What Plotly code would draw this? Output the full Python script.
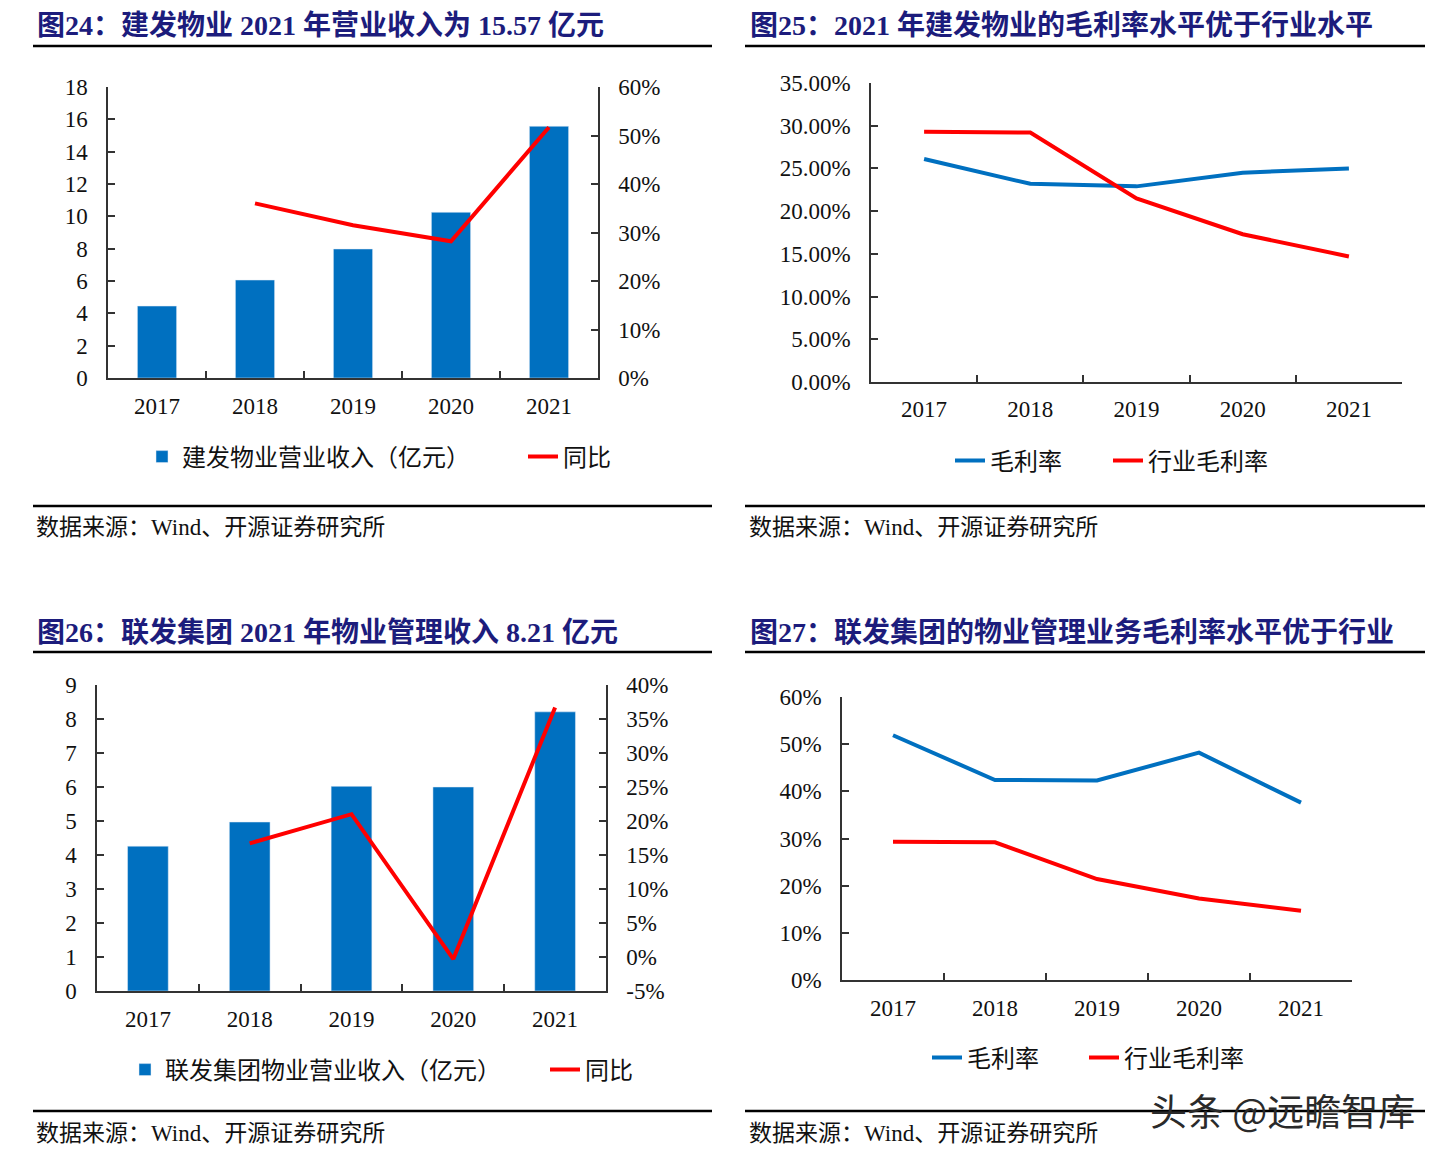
import plotly.graph_objects as go

# ---------------- data ----------------
years = ["2017", "2018", "2019", "2020", "2021"]

# 图24 建发物业营业收入（亿元）与同比（%）
jf_revenue = [4.45, 6.06, 7.98, 10.25, 15.57]
jf_revenue_yoy = [None, 36.0, 31.5, 28.2, 51.7]

# 图25 建发物业毛利率 vs 行业毛利率（%）
jf_gross_margin = [26.1, 23.2, 22.9, 24.5, 25.0]
industry_gross_margin = [29.3, 29.2, 21.5, 17.3, 14.7]

# 图26 联发集团物业营业收入（亿元）与同比（%）
lf_revenue = [4.26, 4.97, 6.02, 6.00, 8.21]
lf_revenue_yoy = [None, 16.7, 21.0, -0.3, 36.7]

# 图27 联发集团物业毛利率 vs 行业毛利率（%）
lf_gross_margin = [51.9, 42.4, 42.3, 48.2, 37.6]
industry_gross_margin_2 = [29.3, 29.2, 21.4, 17.3, 14.7]

titles = [
    "图24：建发物业 2021 年营业收入为 15.57 亿元",
    "图25：2021 年建发物业的毛利率水平优于行业水平",
    "图26：联发集团 2021 年物业管理收入 8.21 亿元",
    "图27：联发集团的物业管理业务毛利率水平优于行业",
]
source_text = "数据来源：Wind、开源证券研究所"
watermark = "头条 @远瞻智库"

p3_right_tickvals = [-5, 0, 5, 10, 15, 20, 25, 30, 35, 40]
p3_right_ticktext = [f"{v}%" for v in p3_right_tickvals]

# ---------------- style ----------------
W, H = 1445, 1162
OFF = 8  # page body margin
BLUE = "#0070C0"
RED = "#FF0000"
AXC = "#333333"
NAVY = "#1c1c7c"
FONT = "Liberation Serif, 'Noto Sans CJK SC', serif"
TICK = dict(family=FONT, size=23, color="#111111")


def fx(p):
    return (p - OFF) / W


def fy(p):
    return 1 - (p - OFF) / H


fig = go.Figure()

# ---- panel 1 ----
fig.add_trace(go.Bar(x=years, y=jf_revenue, name="建发物业营业收入（亿元）", marker_color=BLUE,
                     width=0.4, xaxis="x", yaxis="y", legend="legend"))
fig.add_trace(go.Scatter(x=years, y=jf_revenue_yoy, name="同比", mode="lines",
                         line=dict(color=RED, width=4), xaxis="x", yaxis="y2", legend="legend2"))
# ---- panel 2 ----
fig.add_trace(go.Scatter(x=years, y=jf_gross_margin, name="毛利率", mode="lines",
                         line=dict(color=BLUE, width=4), xaxis="x2", yaxis="y3", legend="legend3"))
fig.add_trace(go.Scatter(x=years, y=industry_gross_margin, name="行业毛利率", mode="lines",
                         line=dict(color=RED, width=4), xaxis="x2", yaxis="y3", legend="legend4"))
# ---- panel 3 ----
fig.add_trace(go.Bar(x=years, y=lf_revenue, name="联发集团物业营业收入（亿元）", marker_color=BLUE,
                     width=0.4, xaxis="x3", yaxis="y4", legend="legend5"))
fig.add_trace(go.Scatter(x=years, y=lf_revenue_yoy, name="同比", mode="lines",
                         line=dict(color=RED, width=4), xaxis="x3", yaxis="y5", legend="legend6"))
# ---- panel 4 ----
fig.add_trace(go.Scatter(x=years, y=lf_gross_margin, name="毛利率", mode="lines",
                         line=dict(color=BLUE, width=4), xaxis="x4", yaxis="y6", legend="legend7"))
fig.add_trace(go.Scatter(x=years, y=industry_gross_margin_2, name="行业毛利率", mode="lines",
                         line=dict(color=RED, width=4), xaxis="x4", yaxis="y6", legend="legend8"))


def xax(x0, x1, anchor, standoff):
    return dict(domain=[fx(x0), fx(x1)], anchor=anchor, type="category", range=[-0.5, len(years) - 0.5],
                tickson="boundaries", ticks="inside", ticklen=7, tickcolor=AXC, tickwidth=1.5,
                showline=True, linecolor=AXC, linewidth=1.5, showgrid=False, zeroline=False,
                tickfont=TICK, ticklabelstandoff=standoff, automargin=False, fixedrange=True)


def yax(y0, y1, anchor, rng, dtick, **kw):
    d = dict(domain=[fy(y1), fy(y0)], anchor=anchor, range=rng, dtick=dtick, ticks="inside",
             ticklen=7, tickcolor=AXC, tickwidth=1.5, showline=True, linecolor=AXC, linewidth=1.5,
             showgrid=False, zeroline=False, tickfont=TICK, ticklabelstandoff=14,
             automargin=False, fixedrange=True)
    d.update(kw)
    return d


layout = dict(
    width=W, height=H, autosize=False,
    margin=dict(l=0, r=0, t=0, b=0, pad=0, autoexpand=False),
    paper_bgcolor="white", plot_bgcolor="white",
    font=dict(family=FONT, size=22, color="#111111"),
    xaxis=xax(108, 598, "y", 7),
    yaxis=yax(87, 378, "x", [0, 18], 2),
    yaxis2=yax(87, 378, "x", [0, 60], 10, overlaying="y", side="right", ticksuffix="%"),
    xaxis2=xax(871, 1402, "y3", 6),
    yaxis3=yax(83, 382, "x2", [0, 35], 5, tickformat=".2f", ticksuffix="%"),
    xaxis3=xax(97, 606, "y4", 7),
    yaxis4=yax(685, 991, "x3", [0, 9], 1),
    yaxis5=yax(685, 991, "x3", [-5, 40], 5, overlaying="y4", side="right",
               tickmode="array", tickvals=p3_right_tickvals, ticktext=p3_right_ticktext),
    xaxis4=xax(842, 1352, "y6", 7),
    yaxis6=yax(697, 980, "x4", [0, 60], 10, ticksuffix="%"),
    showlegend=True,
)

legend_pos = {
    "legend": (182, 457), "legend2": (563, 457),
    "legend3": (990, 461), "legend4": (1148, 461),
    "legend5": (165, 1070), "legend6": (585, 1070),
    "legend7": (967, 1058), "legend8": (1124, 1058),
}
for name, (tx, ty) in legend_pos.items():
    layout[name] = dict(x=fx(tx - 40), y=fy(ty), xanchor="left", yanchor="middle",
                        orientation="h", bgcolor="rgba(0,0,0,0)", borderwidth=0,
                        font=dict(family=FONT, size=24, color="#111111"))

fig.update_layout(**layout)

# titles, rules, sources
title_pos = [(35, 25), (748, 25), (35, 632), (748, 632)]
for t, (x, y) in zip(titles, title_pos):
    fig.add_annotation(text=f"<b>{t}</b>", xref="paper", yref="paper", x=fx(x), y=fy(y),
                       xanchor="left", yanchor="middle", showarrow=False,
                       font=dict(family=FONT, size=28, color=NAVY))

rules = [(33, 712, 46), (745, 1425, 46), (33, 712, 652), (745, 1425, 652),
         (33, 712, 506), (745, 1425, 506), (33, 712, 1111), (745, 1425, 1111)]
for x0, x1, y in rules:
    fig.add_shape(type="line", xref="paper", yref="paper", x0=fx(x0), x1=fx(x1), y0=fy(y), y1=fy(y),
                  line=dict(color="black", width=2.5))

for x, y in [(34, 527), (747, 527), (34, 1133), (747, 1133)]:
    fig.add_annotation(text=source_text, xref="paper", yref="paper", x=fx(x), y=fy(y),
                       xanchor="left", yanchor="middle", showarrow=False,
                       font=dict(family=FONT, size=23, color="#111111"))

fig.add_annotation(text=watermark, xref="paper", yref="paper", x=fx(1282), y=fy(1110),
                   xanchor="center", yanchor="middle", showarrow=False,
                   font=dict(family="'Noto Sans CJK SC', sans-serif", size=37, color="#2a2a2a"))

fig.write_html("out.html")
